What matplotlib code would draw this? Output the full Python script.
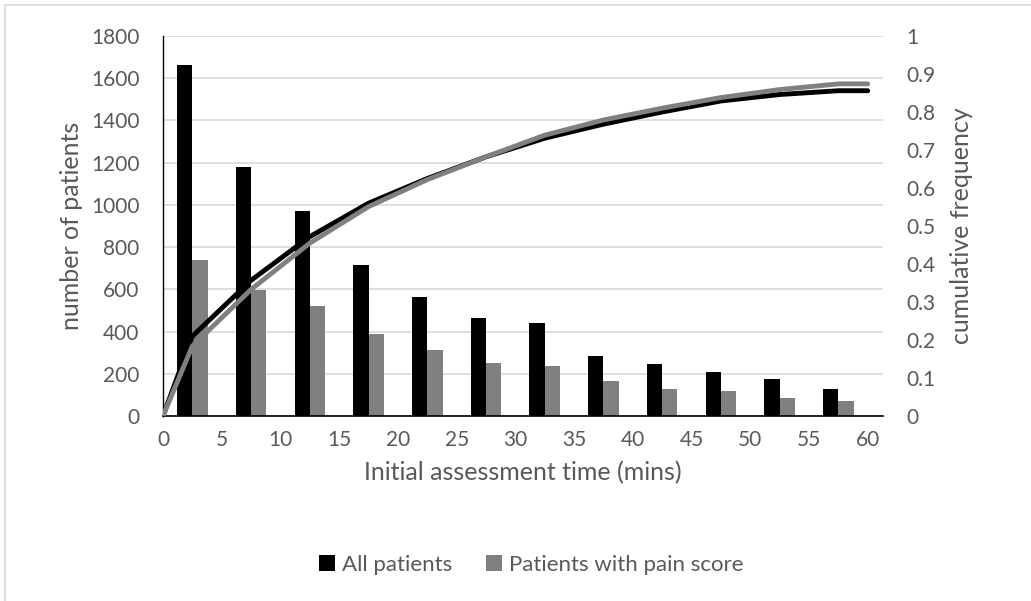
import matplotlib
matplotlib.use("Agg")
import matplotlib.pyplot as plt
from matplotlib.patches import Rectangle
import numpy as np

# ---- data ----
bin_centers = [2.5, 7.5, 12.5, 17.5, 22.5, 27.5, 32.5, 37.5, 42.5, 47.5, 52.5, 57.5]
all_patients = [1665, 1180, 970, 715, 565, 465, 440, 285, 245, 210, 175, 130]
pain_patients = [740, 595, 520, 390, 315, 250, 235, 165, 130, 120, 85, 70]

cum_x = [0, 2.5, 7.5, 12.5, 17.5, 22.5, 27.5, 32.5, 37.5, 42.5, 47.5, 52.5, 57.5, 60]
cum_all = [0, 0.21, 0.357, 0.472, 0.56, 0.625, 0.682, 0.731, 0.768, 0.80, 0.829, 0.846, 0.856, 0.856]
cum_pain = [0, 0.184, 0.333, 0.455, 0.551, 0.622, 0.682, 0.739, 0.779, 0.81, 0.838, 0.859, 0.874, 0.874]

x_ticks = list(range(0, 61, 5))
left_ticks = list(range(0, 1801, 200))
right_ticks = [0, 0.1, 0.2, 0.3, 0.4, 0.5, 0.6, 0.7, 0.8, 0.9, 1]
right_labels = ["0", "0.1", "0.2", "0.3", "0.4", "0.5", "0.6", "0.7", "0.8", "0.9", "1"]

plt.rcParams['font.family'] = ['Lato', 'DejaVu Sans']
TXT = '#595959'

W, H = 1031, 601
fig = plt.figure(figsize=(W / 100, H / 100), dpi=100)
ax = fig.add_axes([163 / W, 1 - 416 / H, (883 - 163) / W, (416 - 36) / H])

bw = 1.3
xc = np.array(bin_centers)
ax.bar(xc - bw / 2, all_patients, width=bw, color='black', label='All patients', zorder=2)
ax.bar(xc + bw / 2, pain_patients, width=bw, color='#808080', label='Patients with pain score', zorder=2)

ax.set_xlim(0, 61.3)
ax.set_ylim(0, 1800)
ax.set_xticks(x_ticks)
ax.set_xticklabels([str(t) for t in x_ticks])
ax.set_yticks(left_ticks)
ax.yaxis.grid(True, color='#D9D9D9', linewidth=1.2, zorder=0)
ax.set_axisbelow(True)
for s in ['top', 'right']:
    ax.spines[s].set_visible(False)
ax.spines['left'].set_color('black')
ax.spines['bottom'].set_color('black')
ax.spines['left'].set_linewidth(1.0)
ax.spines['bottom'].set_linewidth(1.2)
ax.tick_params(axis='y', length=0, labelsize=15, colors=TXT, pad=17)
ax.tick_params(axis='x', length=0, labelsize=15, colors=TXT, pad=10)
ax.set_xlabel('Initial assessment time (mins)', fontsize=18, color=TXT, labelpad=8)
ax.set_ylabel('number of patients', fontsize=18, color=TXT, labelpad=6)

ax2 = ax.twinx()
ax2.set_ylim(0, 1)
ax2.set_yticks(right_ticks)
ax2.set_yticklabels(right_labels)
for s in ['top', 'right', 'left', 'bottom']:
    ax2.spines[s].set_visible(False)
ax2.tick_params(axis='y', length=0, labelsize=15, colors=TXT, pad=17)
ax2.plot(cum_x, cum_all, color='black', linewidth=3.5, solid_capstyle='round', zorder=3)
ax2.plot(cum_x, cum_pain, color='#808080', linewidth=3.5, solid_capstyle='round', zorder=4)
ax2.set_ylabel('cumulative frequency', fontsize=18, color=TXT, labelpad=10)

leg = fig.legend(*ax.get_legend_handles_labels(), loc='center', bbox_to_anchor=(0.515, 1 - 565 / H),
                 ncol=2, frameon=False, fontsize=16, handlelength=0.75, handleheight=0.75,
                 columnspacing=1.5, handletextpad=0.3)
for t in leg.get_texts():
    t.set_color(TXT)

fig.patches.append(Rectangle((5 / W, -0.1), 1.2, 1 - 5 / H + 0.1, transform=fig.transFigure,
                             fill=False, edgecolor='#D9D9D9', linewidth=1.2))

fig.savefig('out.png', dpi=100)
